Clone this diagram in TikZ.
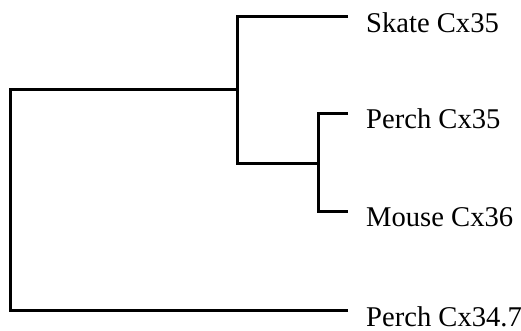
\documentclass[tikz,border=0pt]{standalone}
\usepackage{fontspec}
\setmainfont{Liberation Serif}
\begin{document}
\begin{tikzpicture}[x=1pt,y=-1pt,
  branch/.style={line width=3pt,line join=miter,line cap=butt},
  taxon/.style={anchor=base west,inner sep=0pt,text depth=0pt,font=\fontsize{28.6}{30}\selectfont}]
\useasboundingbox (0,0) rectangle (521,331);
% leaf tips
\coordinate (tSkate) at (348,17);
\coordinate (tPerchA) at (348,114);
\coordinate (tMouse) at (348,211);
\coordinate (tPerchB) at (348,310);
% internal nodes
\coordinate (root) at (10,90);
\coordinate (inner) at (237,90);
\coordinate (sub) at (318,163);
% taxon labels
\node[taxon] (lSkate) at (366,33) {Skate Cx35};
\node[taxon] (lPerchA) at (366,129) {Perch Cx35};
\node[taxon] (lMouse) at (366,226) {Mouse Cx36};
\node[taxon] (lPerchB) at (366,326) {Perch Cx34.7};
% branches
\draw[branch] (tPerchB) -| (root) -- (inner);
\draw[branch] (tSkate) -| (inner) |- (sub);
\draw[branch] (tPerchA) -| (sub) |- (tMouse);
\end{tikzpicture}
\end{document}
